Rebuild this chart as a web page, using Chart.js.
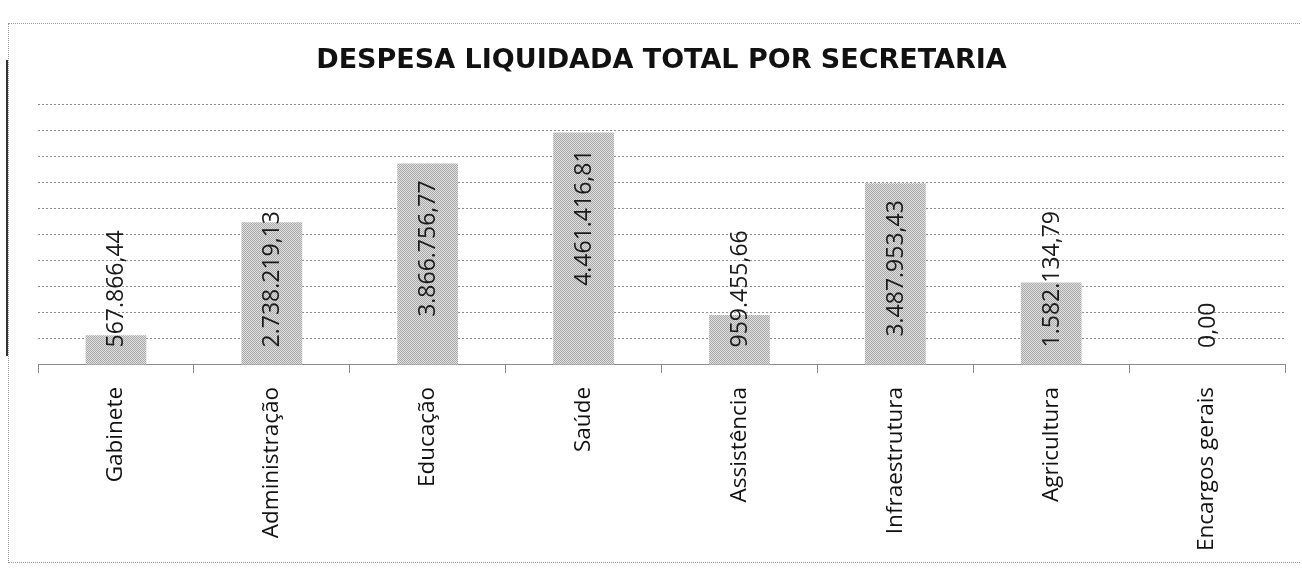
<!DOCTYPE html>
<html>
<head>
<meta charset="utf-8">
<script src="https://cdn.jsdelivr.net/npm/chart.js@4"></script>
<style>
  html, body { margin: 0; padding: 0; background: #fff; }
  #wrap { position: relative; width: 1302px; height: 568px; }
  #frame { position: absolute; left: 8px; top: 23px; width: 1292px; height: 540px;
           border: 1px dotted #9a9a9a; border-right: none; box-sizing: border-box; }
  #edge { position: absolute; left: 6px; top: 60px; width: 2px; height: 296px; background: #333; }
  canvas { position: absolute; left: 0; top: 0; }
</style>
</head>
<body>
<div id="wrap">
  <div id="frame"></div>
  <div id="edge"></div>
  <canvas id="chart" width="1302" height="568"></canvas>
</div>
<script>
"use strict";

// 1: data
let secretarias = ["Gabinete", "Administração", "Educação", "Saúde", "Assistência",
  "Infraestrutura", "Agricultura", "Encargos gerais"];
let despesas = [567866.44, 2738219.13, 3866756.77, 4461416.81, 959455.66,
  3487953.43, 1582134.79, 0];
let yMax = 5000000;
let yStep = 500000;

// format like 1.234.567,89
function formatBR(v) {
  let parts = v.toFixed(2).split(".");
  let inteiro = parts[0].replace(/\B(?=(\d{3})+(?!\d))/g, ".");
  return inteiro + "," + parts[1];
}

// halftone-ish gray fill, like the scanned print
function makePattern() {
  let c = document.createElement("canvas");
  c.width = 2;
  c.height = 2;
  let g = c.getContext("2d");
  g.fillStyle = "#e0e0e0";
  g.fillRect(0, 0, 2, 2);
  g.fillStyle = "#a8a8a8";
  g.fillRect(0, 0, 1, 1);
  g.fillRect(1, 1, 1, 1);
  return g.createPattern(c, "repeat");
}

// value labels, rotated, inside the bar (or from the base if they don't fit)
const valueLabels = {
  id: "valueLabels",
  afterDatasetsDraw(chart) {
    let ctx = chart.ctx;
    let meta = chart.getDatasetMeta(0);
    let pad = 17;
    ctx.save();
    ctx.font = "23px 'Open Sans'";
    ctx.fillStyle = "#1a1a1a";
    ctx.textAlign = "left";
    ctx.textBaseline = "middle";
    meta.data.forEach((bar, i) => {
      let txt = formatBR(despesas[i]);
      let w = ctx.measureText(txt).width;
      let h = bar.base - bar.y;
      let start;
      if (h - 2 * pad >= w) {
        start = bar.y + pad + w;
      } else {
        start = bar.base - pad;
      }
      ctx.save();
      ctx.translate(bar.x, start);
      ctx.rotate(-Math.PI / 2);
      ctx.fillText(txt, 0, 1);
      ctx.restore();
    });
    ctx.restore();
  }
};

// 2: chart
function appendChart() {
  let chartContainer = document.getElementById("chart");
  let gridColor = "#8c8c8c";
  new Chart(chartContainer, {
    type: "bar",
    data: {
      labels: secretarias,
      datasets: [{
        data: despesas,
        backgroundColor: makePattern(),
        borderWidth: 0,
        barPercentage: 0.39,
        categoryPercentage: 1
      }]
    },
    options: {
      responsive: false,
      animation: false,
      layout: { padding: { left: 38, right: 17, top: 0, bottom: 3 } },
      plugins: {
        legend: { display: false },
        tooltip: { enabled: false },
        title: {
          display: true,
          text: "DESPESA LIQUIDADA TOTAL POR SECRETARIA",
          color: "#111",
          font: { family: "'DejaVu Sans'", size: 27, weight: "bold" },
          padding: { top: 45, bottom: 27 }
        }
      },
      scales: {
        y: {
          min: 0,
          max: yMax,
          ticks: { display: false, stepSize: yStep },
          grid: { color: gridColor, lineWidth: 1, drawTicks: false },
          border: { display: false, dash: [2, 2] }
        },
        x: {
          grid: { drawOnChartArea: false, tickLength: 8, color: gridColor },
          border: { display: true, color: gridColor, dash: [2, 2] },
          ticks: {
            color: "#111",
            font: { family: "'Open Sans'", size: 22.5 },
            minRotation: 90,
            maxRotation: 90,
            padding: 14,
            autoSkip: false
          }
        }
      }
    },
    plugins: [valueLabels]
  });
}

appendChart();
</script>
</body>
</html>
